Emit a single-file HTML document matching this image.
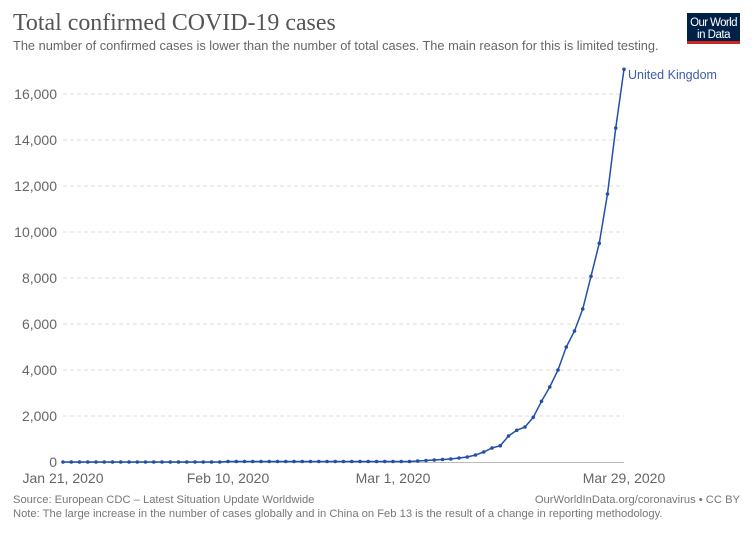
<!DOCTYPE html>
<html><head><meta charset="utf-8"><style>
body{margin:0;background:#fff;width:754px;height:532px;overflow:hidden;font-family:"Liberation Sans",sans-serif}
</style></head><body>
<svg width="754" height="532" xmlns="http://www.w3.org/2000/svg" font-family="Liberation Sans, sans-serif">
<text x="13" y="30" font-family="Liberation Serif, serif" font-size="23.9" fill="#555">Total confirmed COVID-19 cases</text>
<text x="13" y="50" font-size="12.8" fill="#666">The number of confirmed cases is lower than the number of total cases. The main reason for this is limited testing.</text>
<rect x="687" y="13" width="53" height="31" fill="#002147"/>
<rect x="687" y="41" width="53" height="3" fill="#ce261e"/>
<text x="713.5" y="26" font-size="11.5" fill="#fff" text-anchor="middle" letter-spacing="-0.6">Our World</text>
<text x="713.5" y="38" font-size="11.5" fill="#fff" text-anchor="middle" letter-spacing="-0.5">in Data</text>
<g stroke="#ddd" stroke-dasharray="4,3" stroke-width="1">
<line x1="63" x2="624" y1="94" y2="94"/><line x1="63" x2="624" y1="140" y2="140"/><line x1="63" x2="624" y1="186" y2="186"/><line x1="63" x2="624" y1="232" y2="232"/><line x1="63" x2="624" y1="278" y2="278"/><line x1="63" x2="624" y1="324" y2="324"/><line x1="63" x2="624" y1="370" y2="370"/><line x1="63" x2="624" y1="416" y2="416"/>
</g>
<line x1="63" x2="624" y1="462.5" y2="462.5" stroke="#bbb"/>
<g font-size="14" fill="#666" text-anchor="end">
<text x="57" y="99">16,000</text><text x="57" y="145">14,000</text><text x="57" y="191">12,000</text><text x="57" y="237">10,000</text><text x="57" y="283">8,000</text><text x="57" y="329">6,000</text><text x="57" y="375">4,000</text><text x="57" y="421">2,000</text><text x="57" y="467">0</text>
</g>
<g font-size="14" fill="#666" text-anchor="middle">
<text x="63" y="483">Jan 21, 2020</text><text x="228" y="483">Feb 10, 2020</text><text x="393" y="483">Mar 1, 2020</text><text x="624" y="483">Mar 29, 2020</text>
</g>
<g id="s"></g>
<text x="628" y="79" font-size="12.5" fill="#3c5bab">United Kingdom</text>
<text x="13" y="503" font-size="11.2" fill="#777">Source: European CDC – Latest Situation Update Worldwide</text>
<text x="740" y="503" font-size="11.2" fill="#777" text-anchor="end">OurWorldInData.org/coronavirus • CC BY</text>
<text x="13" y="517" font-size="11.2" fill="#777">Note: The large increase in the number of cases globally and in China on Feb 13 is the result of a change in reporting methodology.</text>
</svg>
<script>
(function(){
var tailv=[455,457,458,459,459.5,460,460.5,461];
var topv=[69.3,128,194,243.3,276.3,309,331,347,370,387,401.3,417.3,427,430.3,436,445.7,448,452];
var ys=[];
for(var i=0;i<69;i++){var y;
if(i<=19)y=462;else if(i<=42)y=461.5;else if(i<=50)y=tailv[50-i];else y=topv[68-i];ys.push(y);}
var pts=ys.map(function(y,i){return (63+8.25*i).toFixed(2)+','+y}).join(' ');
var h='<polyline points="'+pts+'" fill="none" stroke="#2050a8" stroke-width="1.5"/>';
ys.forEach(function(y,i){h+='<circle cx="'+(63+8.25*i).toFixed(2)+'" cy="'+y+'" r="1.8" fill="#2050a8"/>';});
document.getElementById('s').innerHTML=h;
})();
</script>
</body></html>
